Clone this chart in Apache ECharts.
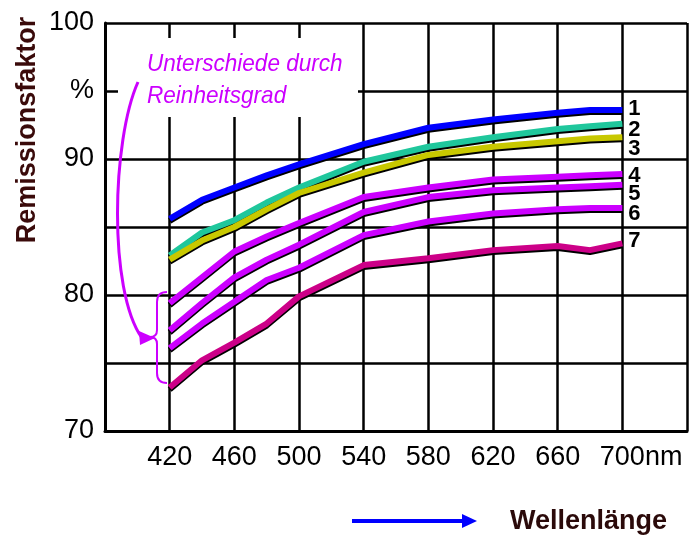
<!DOCTYPE html>
<html>
<head>
<meta charset="utf-8">
<script src="https://cdn.jsdelivr.net/npm/echarts@6/dist/echarts.min.js"></script>
<style>
  html, body { margin: 0; padding: 0; background: #fff; }
  #main { width: 692px; height: 539px; }
</style>
</head>
<body>
<div id="main"></div>
<script>
// Wellenlänge in nm
var wavelengths = [420, 440, 460, 480, 500, 540, 580, 620, 660, 680, 700];
// Remissionsfaktor in % für die Proben 1..7
var probe1 = [85.6, 87.0, 87.9, 88.8, 89.6, 91.1, 92.3, 92.9, 93.4, 93.6, 93.6];
var probe2 = [82.9, 84.6, 85.5, 86.8, 87.9, 89.8, 90.9, 91.6, 92.2, 92.4, 92.6];
var probe3 = [82.6, 84.0, 85.0, 86.3, 87.5, 89.0, 90.3, 90.9, 91.3, 91.5, 91.6];
var probe4 = [79.4, 81.3, 83.2, 84.3, 85.3, 87.2, 87.9, 88.5, 88.7, 88.8, 88.9];
var probe5 = [77.4, 79.4, 81.3, 82.6, 83.7, 86.1, 87.2, 87.7, 87.9, 88.0, 88.1];
var probe6 = [76.1, 77.9, 79.5, 81.1, 82.0, 84.4, 85.4, 86.0, 86.3, 86.4, 86.4];
var probe7 = [73.2, 75.2, 76.5, 77.9, 79.9, 82.2, 82.7, 83.3, 83.6, 83.3, 83.8];
var probeNames = ['1', '2', '3', '4', '5', '6', '7'];
var yTickLabels = { 70: '70', 80: '80', 90: '90', 95: '%', 100: '100' };

var FONT = '"Liberation Sans", Arial, sans-serif';
var MAGENTA = '#cc00ff';
var colors = ['#0000ff', '#1fc79c', '#c8c800', MAGENTA, MAGENTA, MAGENTA, '#cc0088'];
var labelOffsets = [-1, 6, 12, 2, 9, 6, -2];

function pairs(ys) {
	return ys.map(function (y, i) { return [wavelengths[i], y]; });
}
// kleine Helfer fuer die Grafik-Elemente
function curve(x1, y1, cx, cy, x2, y2, w) {
	return { type: 'bezierCurve', z: 11, shape: { x1: x1, y1: y1, cpx1: cx, cpy1: cy, x2: x2, y2: y2 }, style: { stroke: MAGENTA, lineWidth: w, fill: null } };
}
function seg(x1, y1, x2, y2, w, c) {
	return { type: 'line', z: 11, shape: { x1: x1, y1: y1, x2: x2, y2: y2 }, style: { stroke: c || MAGENTA, lineWidth: w } };
}

var myChart = echarts.init(document.getElementById('main'));
var allProbes = [probe1, probe2, probe3, probe4, probe5, probe6, probe7];

myChart.setOption({
	animation: false,
	backgroundColor: '#fff',
	grid: { left: 105, right: 5, top: 23, bottom: 108 },
	xAxis: {
		type: 'value', min: 380, max: 740, interval: 40,
		axisLine: { lineStyle: { color: '#000', width: 3 } },
		axisTick: { show: false },
		splitLine: { lineStyle: { color: '#000', width: 2.5 } },
		axisLabel: {
			color: '#000', fontSize: 27, fontFamily: FONT, margin: 13,
			formatter: function (v) { return (v < 420 || v > 700) ? '' : String(v); }
		}
	},
	yAxis: {
		type: 'value', min: 70, max: 100, interval: 5,
		axisLine: { show: true, lineStyle: { color: '#000', width: 3 } },
		axisTick: { show: false },
		splitLine: { lineStyle: { color: '#000', width: 2.5 } },
		axisLabel: {
			color: '#000', fontSize: 27, fontFamily: FONT, margin: 11,
			formatter: function (v) { return yTickLabels[v] || ''; }
		}
	},
	series: allProbes.map(function (ys, i) {
		return {
			name: probeNames[i],
			type: 'line',
			data: pairs(ys),
			symbol: 'none',
			z: 3 + i,
			lineStyle: {
				color: colors[i], width: 6,
				shadowColor: '#000', shadowBlur: 0, shadowOffsetY: 2
			},
			endLabel: {
				show: true, formatter: probeNames[i], distance: 6,
				offset: [0, labelOffsets[i]],
				color: '#000', fontSize: 22, fontWeight: 'bold', fontFamily: FONT
			}
		};
	}),
	graphic: [
		// weisser Hintergrund hinter der Anmerkung
		{ type: 'rect', z: 10, shape: { x: 118, y: 38, width: 240, height: 79 }, style: { fill: '#fff' } },
		{ type: 'text', z: 11, x: 147, y: 64, scaleX: 0.94, style: { text: 'Unterschiede durch', font: 'italic 24px ' + FONT, fill: MAGENTA, align: 'left', verticalAlign: 'middle' } },
		{ type: 'text', z: 11, x: 147, y: 96, scaleX: 0.94, style: { text: 'Reinheitsgrad', font: 'italic 24px ' + FONT, fill: MAGENTA, align: 'left', verticalAlign: 'middle' } },
		// gebogener Pfeil
		{ type: 'bezierCurve', z: 11, shape: { x1: 138, y1: 82, cpx1: 112, cpy1: 140, cpx2: 108, cpy2: 290, x2: 142, y2: 338 }, style: { stroke: MAGENTA, lineWidth: 3, fill: null } },
		{ type: 'polygon', z: 11, shape: { points: [[139, 331], [155, 338], [140, 345]] }, style: { fill: MAGENTA } },
		// geschweifte Klammer
		curve(167, 292, 157, 292, 157, 302, 2),
		seg(157, 302, 157, 330, 2),
		curve(157, 330, 157, 337, 150, 337, 2),
		curve(150, 337, 157, 337, 157, 344, 2),
		seg(157, 344, 157, 373, 2),
		curve(157, 373, 157, 383, 167, 383, 2),
		// Achsentitel
		{ type: 'text', z: 11, x: 28, y: 130, rotation: Math.PI / 2, style: { text: 'Remissionsfaktor', font: 'bold 27px ' + FONT, fill: '#3a0a0a', align: 'center', verticalAlign: 'middle' } },
		{ type: 'text', z: 11, x: 645, y: 458, style: { text: 'nm', font: '27px ' + FONT, fill: '#000', align: 'left', verticalAlign: 'middle' } },
		seg(352, 521, 465, 521, 4, '#0000ff'),
		{ type: 'polygon', z: 11, shape: { points: [[462, 514], [477, 521], [462, 528]] }, style: { fill: '#0000ff' } },
		{ type: 'text', z: 11, x: 510, y: 522, style: { text: 'Wellenlänge', font: 'bold 27px ' + FONT, fill: '#2b0a0a', align: 'left', verticalAlign: 'middle' } }
	]
});
</script>
</body>
</html>
